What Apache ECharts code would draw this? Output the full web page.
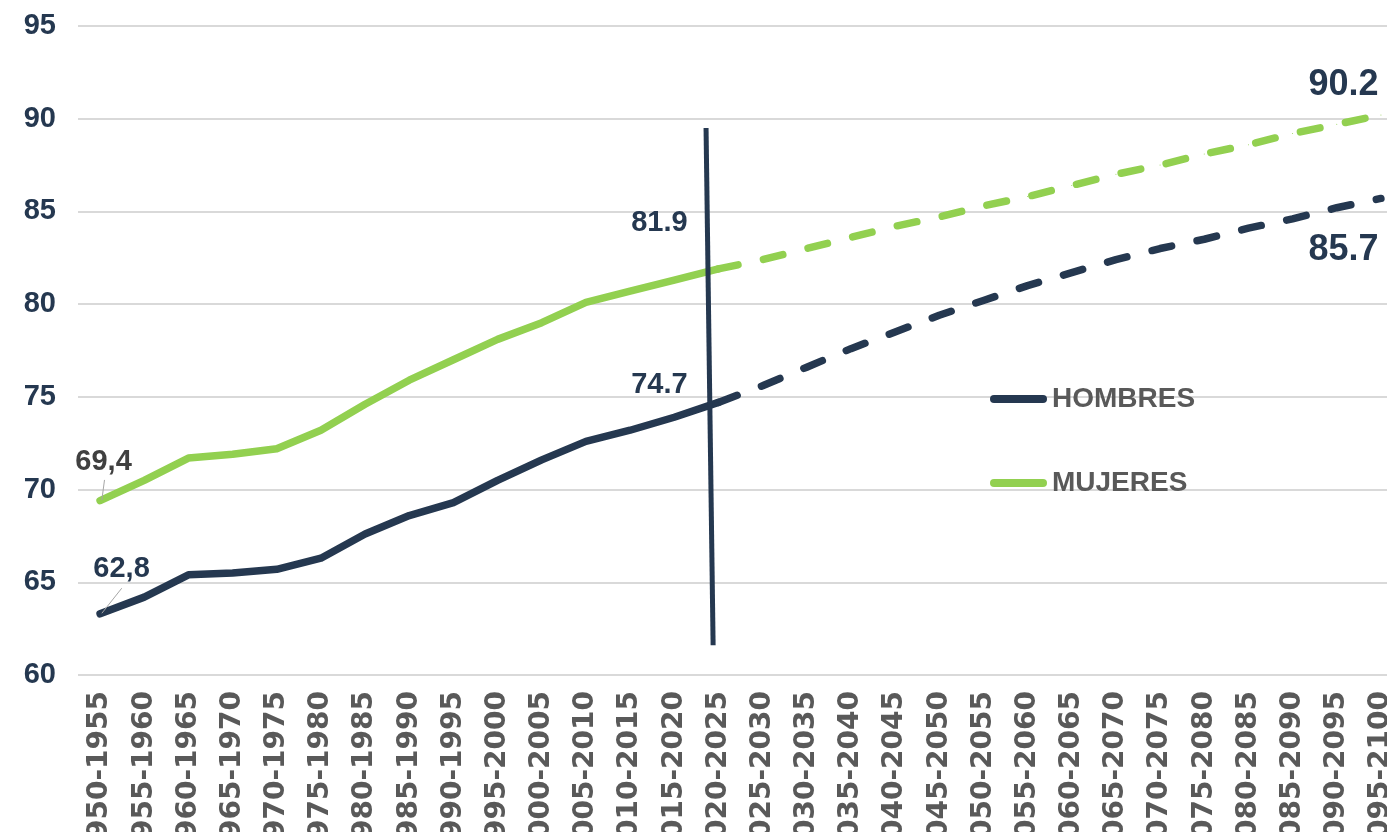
<!DOCTYPE html>
<html>
<head>
<meta charset="utf-8">
<script src="https://cdn.jsdelivr.net/npm/echarts@6/dist/echarts.min.js"></script>
<style>
html,body{margin:0;padding:0;background:#fff;}
#chart{width:1387px;height:832px;}
</style>
</head>
<body>
<div id="chart"></div>
<script>
const categories = ['1950-1955','1955-1960','1960-1965','1965-1970','1970-1975','1975-1980','1980-1985','1985-1990','1990-1995','1995-2000','2000-2005','2005-2010','2010-2015','2015-2020','2020-2025','2025-2030','2030-2035','2035-2040','2040-2045','2045-2050','2050-2055','2055-2060','2060-2065','2065-2070','2070-2075','2075-2080','2080-2085','2085-2090','2090-2095','2095-2100'];
// observed (1950-2025)
const hombresObs = [63.3, 64.2, 65.4, 65.5, 65.7, 66.3, 67.6, 68.6, 69.3, 70.5, 71.6, 72.6, 73.2, 73.9, 74.7];
const mujeresObs = [69.4, 70.5, 71.7, 71.9, 72.2, 73.2, 74.6, 75.9, 77.0, 78.1, 79.0, 80.1, 80.7, 81.3, 81.9];
// projected (2020-2100)
const hombresProj = [74.7, 75.6, 76.6, 77.6, 78.5, 79.4, 80.2, 81.0, 81.7, 82.4, 83.0, 83.5, 84.1, 84.6, 85.2, 85.7];
const mujeresProj = [81.9, 82.4, 83.0, 83.6, 84.2, 84.7, 85.3, 85.8, 86.4, 87.0, 87.5, 88.1, 88.6, 89.2, 89.7, 90.2];
const yTicks = [60, 65, 70, 75, 80, 85, 90, 95];
const seriesNames = ['HOMBRES', 'MUJERES'];
// label texts
const labelHombresStart = '62,8';
const labelMujeresStart = '69,4';
const labelHombresNow = '74.7';
const labelMujeresNow = '81.9';
const labelHombresEnd = '85.7';
const labelMujeresEnd = '90.2';
// decorative divider and leader lines (data space: category index, years)
const dividerLine = [[13.72, 89.5], [13.88, 61.6]];
const leaderMujeres = [[0.10, 70.52], [0.04, 69.44]];
const leaderHombres = [[0.49, 64.68], [0.04, 63.33]];

const NAVY = '#253850';
const GREEN = '#92D050';
const projStart = hombresObs.length - 1;

function pad(arr, before, total) {
  const out = [];
  for (let i = 0; i < before; i++) out.push(null);
  for (const v of arr) out.push(v);
  while (out.length < total) out.push(null);
  return out;
}
function withLabels(data, map) {
  return data.map((v, i) => {
    if (map[i]) return { value: v, label: Object.assign({ show: true, position: 'inside' }, map[i]) };
    return v;
  });
}
const N = categories.length;
const lblBase = { fontFamily: 'Liberation Sans', fontWeight: 'bold' };

const hObsData = withLabels(pad(hombresObs, 0, N), {
  0: Object.assign({}, lblBase, { formatter: labelHombresStart, fontSize: 29, color: NAVY, offset: [21.5, -45] }),
  14: Object.assign({}, lblBase, { formatter: labelHombresNow, fontSize: 29, color: NAVY, offset: [-59, -17.5] })
});
const mObsData = withLabels(pad(mujeresObs, 0, N), {
  0: Object.assign({}, lblBase, { formatter: labelMujeresStart, fontSize: 29, color: '#404040', offset: [3.5, -39] }),
  14: Object.assign({}, lblBase, { formatter: labelMujeresNow, fontSize: 29, color: NAVY, offset: [-59, -46] })
});
const hProjData = withLabels(pad(hombresProj, projStart, N), {
  29: Object.assign({}, lblBase, { formatter: labelHombresEnd, fontSize: 36, color: NAVY, offset: [-37.5, 52] })
});
const mProjData = withLabels(pad(mujeresProj, projStart, N), {
  29: Object.assign({}, lblBase, { formatter: labelMujeresEnd, fontSize: 36, color: NAVY, offset: [-37.5, -30] })
});

function mainLine(name, data, color, dashed) {
  return {
    name: name, type: 'line', data: data, xAxisIndex: 0, yAxisIndex: 0,
    symbol: 'circle', symbolSize: 1, showSymbol: true,
    itemStyle: { color: color },
    lineStyle: { color: color, width: 7.5, cap: 'round', join: 'round', type: dashed ? [20, 26] : 'solid' },
    connectNulls: false, silent: true, z: 3
  };
}
function decor(name, data, color, width, z) {
  return {
    name: name, type: 'line', data: data, xAxisIndex: 1, yAxisIndex: 0,
    symbol: 'none', lineStyle: { color: color, width: width, cap: 'butt' }, silent: true, z: z
  };
}

const chart = echarts.init(document.getElementById('chart'), null, { renderer: 'canvas' });
chart.setOption({
  animation: false,
  backgroundColor: '#ffffff',
  grid: { left: 78, top: 26, width: 1325, height: 649, containLabel: false, outerBoundsMode: 'none' },
  legend: {
    data: [
      { name: seriesNames[0], itemStyle: { color: NAVY, opacity: 1 } },
      { name: seriesNames[1], itemStyle: { color: GREEN, opacity: 1 } }
    ],
    orient: 'vertical',
    left: 985, top: 380,
    itemWidth: 57, itemHeight: 8, itemGap: 56,
    icon: 'path://M4,0 L53,0 A4,4 0 0 1 53,8 L4,8 A4,4 0 0 1 4,0 Z',
    textStyle: { fontFamily: 'Liberation Sans', fontWeight: 'bold', fontSize: 28, color: '#595959' },
    selectedMode: false
  },
  xAxis: [{
    type: 'category', data: categories, boundaryGap: true,
    axisLine: { show: false }, axisTick: { show: false },
    axisLabel: { interval: 0, rotate: 90, margin: 16, fontFamily: 'DejaVu Sans', fontWeight: 'bold', fontSize: 28, color: '#595959' },
    splitLine: { show: false }
  }, {
    type: 'value', min: -0.5, max: 29.5, show: false, splitLine: { show: false }
  }],
  yAxis: {
    type: 'value', min: yTicks[0], max: yTicks[yTicks.length - 1], interval: 5,
    axisLine: { show: false }, axisTick: { show: false },
    axisLabel: { margin: 22, fontFamily: 'Liberation Sans', fontWeight: 'bold', fontSize: 29, color: NAVY },
    splitLine: { show: true, lineStyle: { color: '#D9D9D9', width: 2 } }
  },
  series: [
    mainLine('HOMBRES', hObsData, NAVY, false),
    mainLine('MUJERES', mObsData, GREEN, false),
    mainLine('HOMBRES proyección', hProjData, NAVY, true),
    mainLine('MUJERES proyección', mProjData, GREEN, true),
    decor('divisor', dividerLine, NAVY, 5, 5),
    decor('guía mujeres', leaderMujeres, '#A6A6A6', 1, 4),
    decor('guía hombres', leaderHombres, '#A6A6A6', 1, 4)
  ]
});
</script>
</body>
</html>
